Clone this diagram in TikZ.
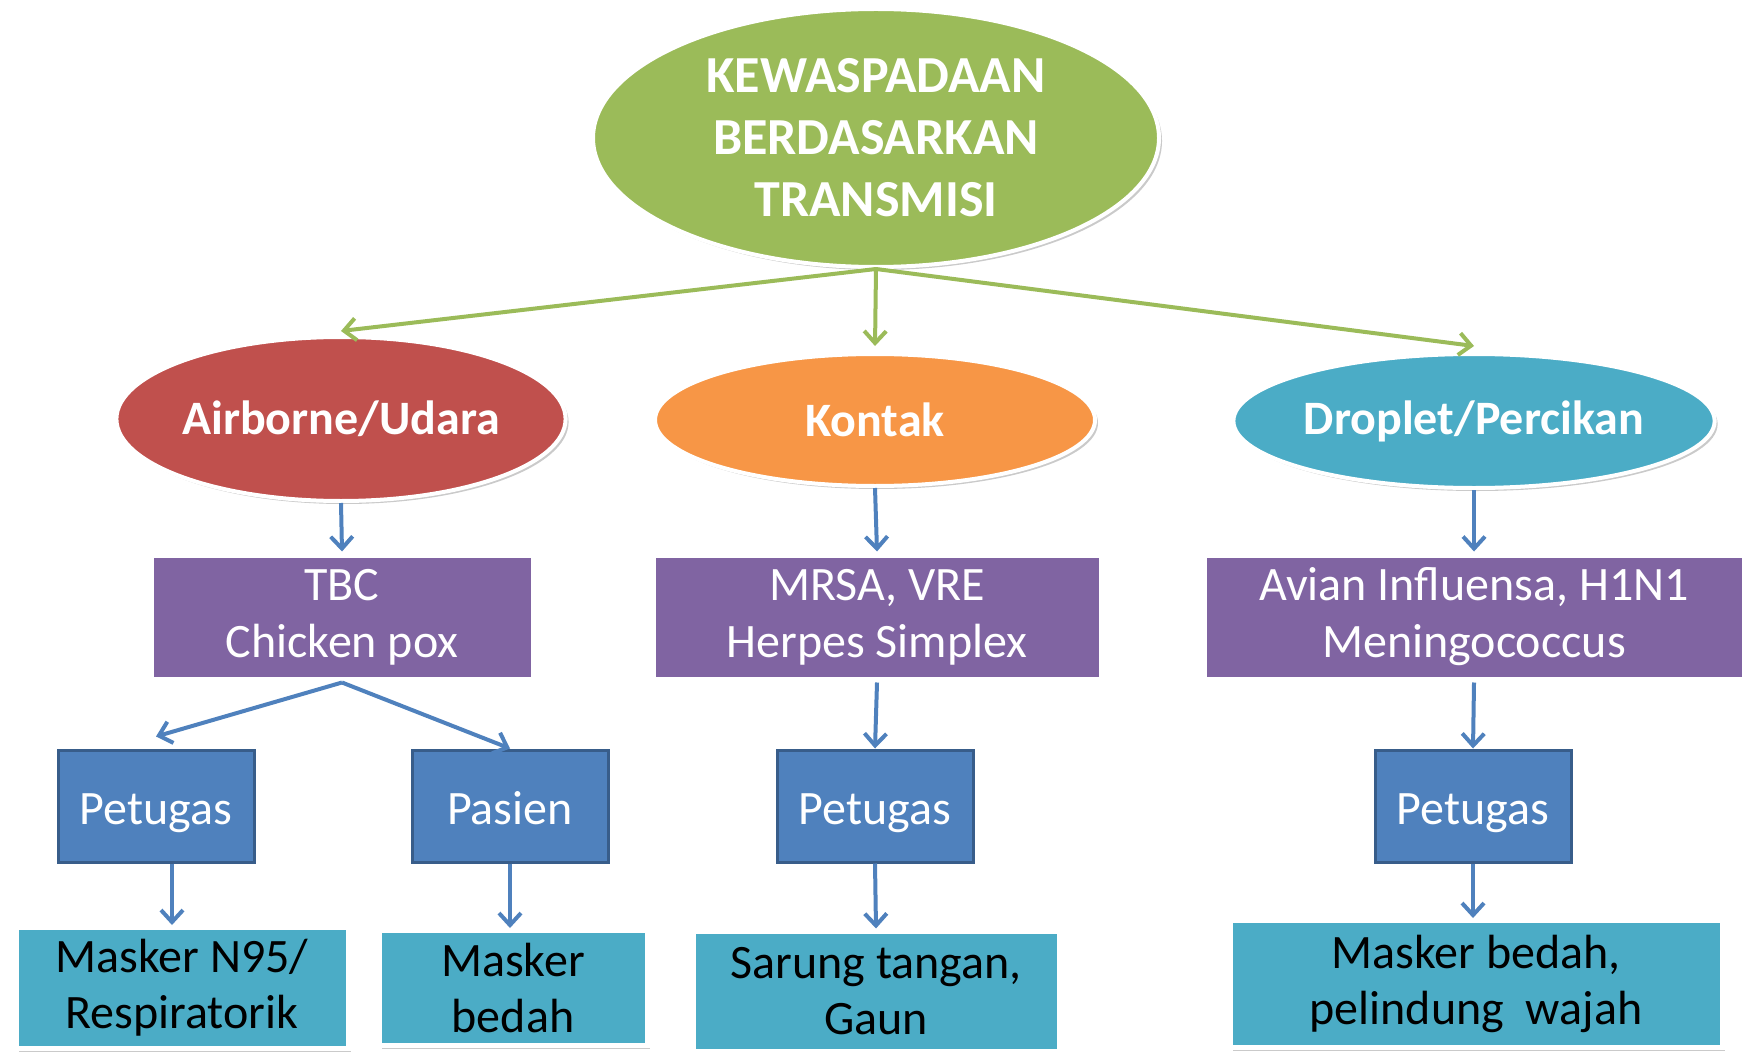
\documentclass[tikz,border=0pt]{standalone}
\usepackage{fontspec}
\setmainfont{Carlito}
\usetikzlibrary{arrows.meta,shapes.geometric,shadows}
\definecolor{kewgreen}{HTML}{9BBB59}
\definecolor{kewred}{HTML}{C0504D}
\definecolor{keworange}{HTML}{F79646}
\definecolor{kewteal}{HTML}{4BACC6}
\definecolor{kewpurple}{HTML}{8064A2}
\definecolor{kewblue}{HTML}{4F81BD}
\definecolor{kewdarkblue}{HTML}{385D8A}

\begin{document}
\begin{tikzpicture}[x=0.5pt,y=0.5pt,
  softshadow/.style={drop shadow={shadow xshift=1.5pt,shadow yshift=-1.5pt,opacity=0.35,fill=black!60}},
  oval/.style={ellipse,draw=white,line width=2pt,inner sep=0pt,text=white,softshadow,
    font=\fontsize{24}{29}\selectfont\bfseries},
  diseasebox/.style={rectangle,fill=kewpurple,draw=white,line width=3pt,inner sep=0pt,text=white,
    align=center,softshadow,font=\fontsize{24}{28.5}\selectfont},
  staffbox/.style={rectangle,fill=kewblue,draw=kewdarkblue,line width=1.5pt,inner sep=0pt,text=white,
    minimum width=98pt,minimum height=56pt,text height=22pt,text depth=4pt,font=\fontsize{24}{28.5}\selectfont},
  gearbox/.style={rectangle,fill=kewteal,draw=white,line width=2.5pt,inner sep=0pt,text=black,
    align=center,softshadow,font=\fontsize{24}{28}\selectfont},
  greenarrow/.style={draw=kewgreen,line width=2pt,-{Straight Barb[length=6pt,width=11pt]}},
  bluearrow/.style={draw=kewblue,line width=2pt,-{Straight Barb[length=6pt,width=11pt]}}]
\useasboundingbox (0,0) rectangle (1748,1062);

% top
\node[oval,fill=kewgreen,minimum width=283pt,minimum height=129pt,align=center,
  font=\fontsize{26}{31}\selectfont\bfseries] (main) at (876,924) {KEWASPADAAN\\BERDASARKAN\\TRANSMISI};

% transmission routes
\node[oval,fill=kewred,minimum width=218pt,minimum height=82pt] (air) at (341,643) {Airborne/Udara};
\node[oval,fill=keworange,minimum width=220pt,minimum height=66pt] (kon) at (875,642) {Kontak};
\node[oval,fill=kewteal,minimum width=237pt,minimum height=67pt] (drop) at (1474,641) {Droplet/Percikan};

% diseases
\node[diseasebox,minimum width=191.5pt,minimum height=62.5pt] (tbc) at (342,445) {TBC\\Chicken pox};
\node[diseasebox,minimum width=224.5pt,minimum height=62.5pt] (mrsa) at (877,445) {MRSA, VRE\\Herpes Simplex};
\node[diseasebox,minimum width=270.5pt,minimum height=62.5pt] (avian) at (1474,445) {Avian Influensa, H1N1\\Meningococcus};

% who
\node[staffbox] (pet1) at (156,256) {Petugas};
\node[staffbox] (pas) at (510,256) {Pasien};
\node[staffbox] (pet2) at (875,256) {Petugas};
\node[staffbox] (pet3) at (1473,256) {Petugas};

% protection
\node[gearbox,minimum width=166pt,minimum height=60.5pt] (n95) at (182,74) {Masker N95/\\Respiratorik};
\node[gearbox,minimum width=134pt,minimum height=57.5pt] (bedah) at (513,74) {Masker\\bedah};
\node[gearbox,minimum width=183pt,minimum height=60pt] (sarung) at (876,71) {Sarung tangan,\\Gaun};
\node[gearbox,minimum width=246pt,minimum height=63.5pt] (wajah) at (1476,78) {Masker bedah,\\pelindung\ \ wajah};

% arrows
\draw[greenarrow] (main.south) -- ([yshift=2pt]air.north);
\draw[greenarrow] (main.south) -- ([yshift=3pt]kon.north);
\draw[greenarrow] (main.south) -- ([yshift=3pt]drop.north);
\draw[bluearrow] (air.south) -- (tbc.north);
\draw[bluearrow] (kon.south) -- (mrsa.north);
\draw[bluearrow] (drop.south) -- (avian.north);
\draw[bluearrow] (tbc.south) -- ([yshift=6pt]pet1.north);
\draw[bluearrow] (tbc.south) -- (pas.north);
\draw[bluearrow] (mrsa.south) -- (pet2.north);
\draw[bluearrow] (avian.south) -- (pet3.north);
\draw[bluearrow] ([xshift=8pt]pet1.south) -- ([xshift=8pt]pet1.south |- n95.north);
\draw[bluearrow] (pas.south) -- (pas.south |- bedah.north);
\draw[bluearrow] (pet2.south) -- (sarung.north);
\draw[bluearrow] (pet3.south) -- (pet3.south |- wajah.north);
\end{tikzpicture}
\end{document}
